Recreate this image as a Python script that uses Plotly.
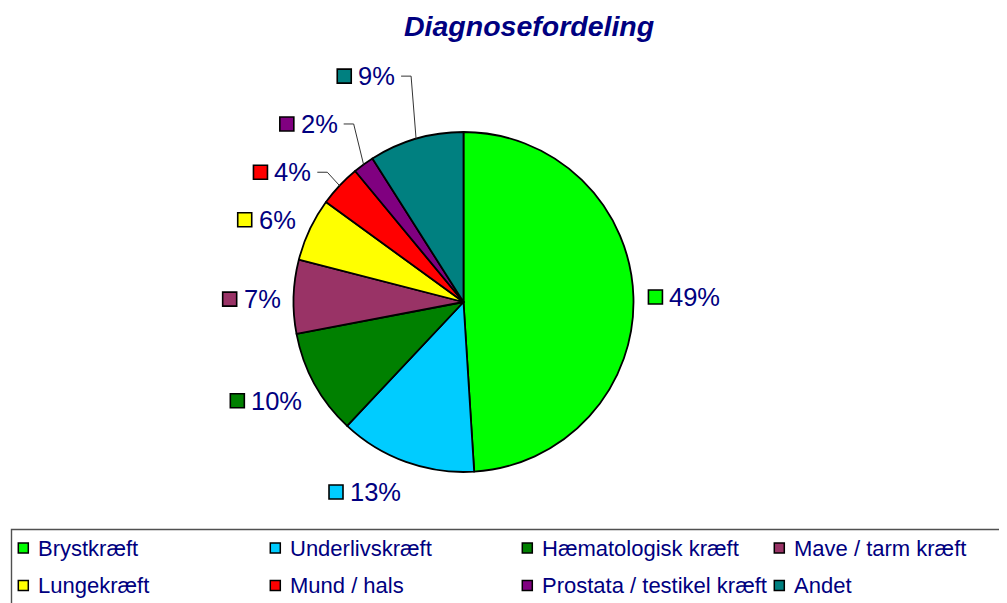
import math
import plotly.graph_objects as go

# ---------------- data ----------------
categories = ["Brystkræft", "Underlivskræft", "Hæmatologisk kræft", "Mave / tarm kræft",
              "Lungekræft", "Mund / hals", "Prostata / testikel kræft", "Andet"]
values = [49, 13, 10, 7, 6, 4, 2, 9]
colors = ["#00FF00", "#00CCFF", "#008000", "#993366",
          "#FFFF00", "#FF0000", "#800080", "#008080"]
title_text = "Diagnosefordeling"

# ---------------- label styling (distance from centre / small angular nudge) ----------------
label_dist = [185, 200, 189, 183, 187, 200, 218, 236]
label_dtheta = [0.25, -1.6, -2.7, -0.9, 0.9, -2.75, 0.75, -0.65]
leader = [False, False, False, False, False, True, True, True]

W, H = 1007, 603
OFF = 8  # page body margin
CX, CY, R = 463.5, 302.0, 170.0
NAVY = "#000080"
FONT = "Liberation Sans, Arial, sans-serif"
LBL_FS = 25.5
LEG_FS = 22


def px(x):
    return (x - OFF) / W


def py(y):
    return 1 - (y - OFF) / H


fig = go.Figure()
fig.add_trace(go.Pie(
    labels=categories, values=values, sort=False, direction="clockwise", rotation=0,
    marker=dict(colors=colors, line=dict(color="black", width=1.8)),
    textinfo="none", hoverinfo="none", showlegend=False,
    domain=dict(x=[px(CX - R), px(CX + R)], y=[py(CY + R), py(CY - R)]),
))

shapes = []
annotations = []

total = sum(values)
cum = 0.0
for i, v in enumerate(values):
    start = cum / total * 360
    cum += v
    end = cum / total * 360
    mid = (start + end) / 2
    pct = f"{round(v / total * 100)}%"
    th = math.radians(mid + label_dtheta[i])
    ax = CX + label_dist[i] * math.sin(th)
    ay = CY - label_dist[i] * math.cos(th)
    tw = LBL_FS * (0.556 * (len(pct) - 1) + 0.889)
    msz, gap = 14, 7
    if math.sin(th) > 0:
        ml = ax
        tl = ml + msz + gap
    else:
        tl = ax - tw
        ml = tl - gap - msz
    shapes.append(dict(type="rect", xref="paper", yref="paper",
                       x0=px(ml), x1=px(ml + msz), y0=py(ay + msz / 2), y1=py(ay - msz / 2),
                       fillcolor=colors[i], line=dict(color="black", width=1.6)))
    annotations.append(dict(xref="paper", yref="paper", x=px(tl), y=py(ay),
                            xanchor="left", yanchor="middle", text=pct, showarrow=False,
                            borderpad=0, borderwidth=0,
                            font=dict(family=FONT, size=LBL_FS, color=NAVY)))
    if leader[i]:
        thm = math.radians(mid)
        ex = CX + R * math.sin(thm)
        ey = CY - R * math.cos(thm)
        sx = ax + 6
        hx = sx + 10
        shapes.append(dict(type="path", xref="paper", yref="paper",
                           path=f"M{px(sx)},{py(ay)} L{px(hx)},{py(ay)} L{px(ex)},{py(ey)}",
                           line=dict(color="#333333", width=1)))

# ---------------- legend (manual, 4 columns x 2 rows) ----------------
shapes.append(dict(type="rect", xref="paper", yref="paper",
                   x0=px(11.5), x1=px(1030), y0=py(640), y1=py(529.5),
                   line=dict(color="#505050", width=1.4), fillcolor="rgba(0,0,0,0)"))
for i, cat in enumerate(categories):
    col, row = i % 4, i // 4
    mx = 18.3 + col * 252
    my = 548 + row * 37.5
    ms = 10
    shapes.append(dict(type="rect", xref="paper", yref="paper",
                       x0=px(mx), x1=px(mx + ms), y0=py(my + ms / 2), y1=py(my - ms / 2),
                       fillcolor=colors[i], line=dict(color="black", width=1.5)))
    annotations.append(dict(xref="paper", yref="paper", x=px(mx + 20), y=py(my),
                            xanchor="left", yanchor="middle", text=cat, showarrow=False,
                            borderpad=0, borderwidth=0,
                            font=dict(family=FONT, size=LEG_FS, color=NAVY)))

# ---------------- title ----------------
annotations.append(dict(xref="paper", yref="paper", x=px(529), y=py(26),
                        xanchor="center", yanchor="middle",
                        text=f"<b><i>{title_text}</i></b>", showarrow=False,
                        font=dict(family=FONT, size=28.5, color=NAVY)))

fig.update_layout(
    width=W, height=H, margin=dict(l=0, r=0, t=0, b=0),
    paper_bgcolor="white", plot_bgcolor="white",
    shapes=shapes, annotations=annotations, showlegend=False,
)
fig.write_html("out.html")
